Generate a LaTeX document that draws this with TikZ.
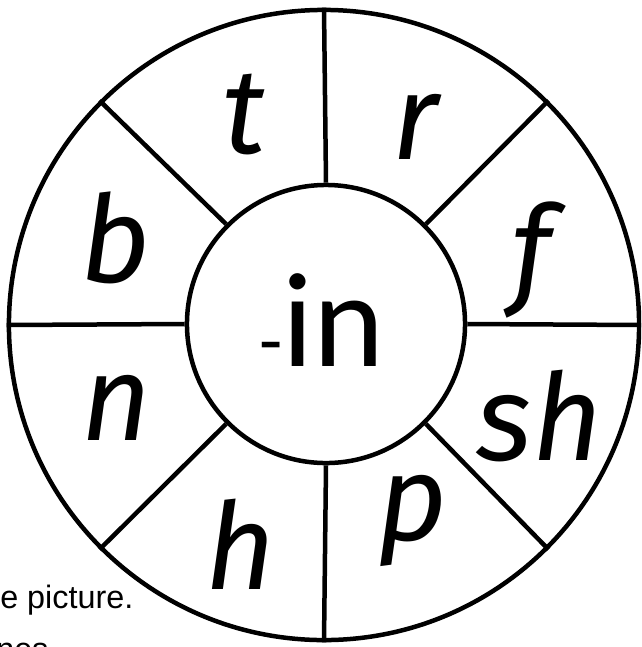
\documentclass[tikz,border=0pt]{standalone}
\usepackage{fontspec}
\setmainfont{Liberation Sans}
\newfontfamily\hubfont{Carlito}
\newfontfamily\handfont{Fira Sans}

\begin{document}
\begin{tikzpicture}[x=0.025cm,y=0.025cm,
            wheel/.style={draw,circle,line width=3.2pt,inner sep=0pt},
            spoke/.style={line width=3.2pt},
            onset/.style={anchor=base,inner sep=0pt,font=\handfont\itshape\fontsize{86}{86}\selectfont}]
            \useasboundingbox (0,0) rectangle (641,-647);
            \clip (0,0) rectangle (641,-647);
            % wheel
            \node[wheel,minimum size=15.75cm] (rim) at (324,-325) {};
            \node[wheel,minimum size=6.95cm] (hub) at (326,-324) {};
            \foreach \a in {0,45,...,315}
                \draw[spoke] (hub.\a) -- (rim.\a);
            \node[anchor=base,inner sep=0pt] (word) at (322,-366)
                {\hubfont\fontsize{54}{54}\selectfont -\fontsize{96}{96}\selectfont in};
            % onsets
            \node[onset] (t) at (244,-153) {t};
            \node[onset] (r) at (416,-159) {r};
            \node[onset] (b) at (116,-282) {b};
            \node[onset] (f) at (531,-292) {f};
            \node[onset] (n) at (117,-440) {n};
            \node[onset] (sh) at (540,-460) {sh};
            \node[onset] (h) at (241,-589) {h};
            \node[onset] (p) at (413,-540) {p};
            % cut off text
            \node[anchor=base west,inner sep=0pt,font=\fontsize{23}{23}\selectfont] (line1) at (0,-608) {e picture.};
            \node[anchor=base west,inner sep=0pt,font=\fontsize{23}{23}\selectfont] (line2) at (-4,-660) {nes};
        \end{tikzpicture}
\end{document}
